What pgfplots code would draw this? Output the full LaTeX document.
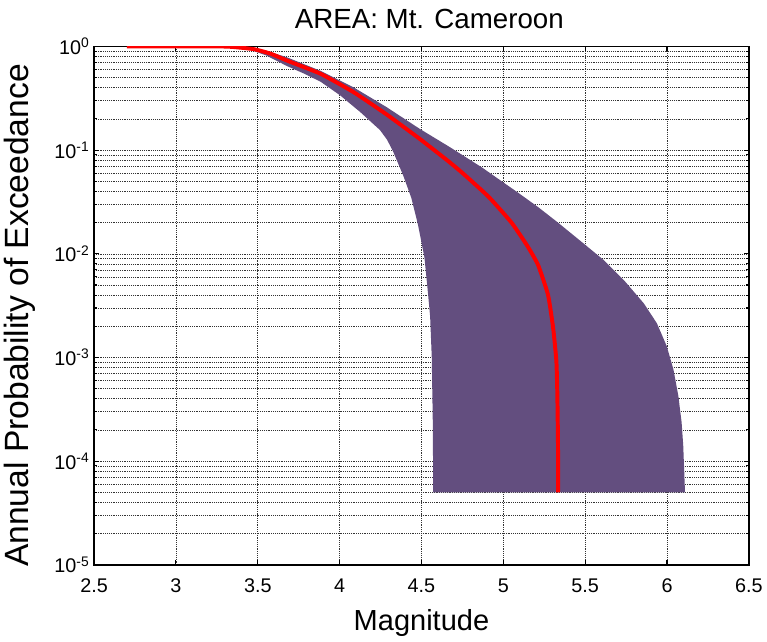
\documentclass[border=0pt]{standalone}
\usepackage{pgfplots}
\pgfplotsset{compat=1.18}
\usepackage{fontspec}
\setmainfont{Liberation Sans}
\definecolor{purp}{RGB}{99,78,127}
\begin{document}
\begin{tikzpicture}
\begin{axis}[
  scale only axis,
  width=496.5pt, height=393pt,
  xmin=2.5, xmax=6.5,
  ymode=log, ymin=1e-5, ymax=1,
  xtick={2.5,3,3.5,4,4.5,5,5.5,6,6.5},
  xticklabels={2.5,3,3.5,4,4.5,5,5.5,6,6.5},
  ytick={1e-5,1e-4,1e-3,1e-2,1e-1,1},
  yticklabels={10\textsuperscript{-5},10\textsuperscript{-4},10\textsuperscript{-3},10\textsuperscript{-2},10\textsuperscript{-1},10\textsuperscript{0}},
  minor ytick={2e-5,3e-5,4e-5,5e-5,6e-5,7e-5,8e-5,9e-5,
               2e-4,3e-4,4e-4,5e-4,6e-4,7e-4,8e-4,9e-4,
               2e-3,3e-3,4e-3,5e-3,6e-3,7e-3,8e-3,9e-3,
               2e-2,3e-2,4e-2,5e-2,6e-2,7e-2,8e-2,9e-2,
               2e-1,3e-1,4e-1,5e-1,6e-1,7e-1,8e-1,9e-1},
  xmajorgrids, ymajorgrids, yminorgrids,
  major grid style={densely dotted, black!80, line width=0.45pt},
  minor grid style={densely dotted, black!80, line width=0.45pt},
  tick align=inside,
  major tick length=3.75pt,
  minor tick length=2.2pt,
  tick style={black, line width=0.8pt},
  axis line style={black, line width=1.2pt},
  tick label style={font=\fontsize{15}{17}\selectfont},
  /pgf/number format/assume math mode=true,
  xticklabel style={yshift=-7pt},
  title={AREA: Mt. Cameroon},
  title style={font=\fontsize{21}{25}\selectfont, at={(axis description cs:0.512,1.038)}, anchor=center},
  xlabel={Magnitude},
  xlabel style={font=\fontsize{22}{26}\selectfont, at={(axis description cs:0.5,-0.113)}, anchor=center},
  ylabel={Annual Probability of Exceedance},
  ylabel style={font=\fontsize{25.5}{30}\selectfont, at={(axis description cs:-0.113,0.481)}, anchor=center, rotate=0},
]
\addplot[fill=purp, draw=none] coordinates {
(3.30,1) (3.45,0.970) (3.55,0.912) (3.68,0.785) (3.884,0.582) (4.085,0.404)
(4.287,0.260) (4.488,0.161) (4.669,0.108) (4.75,0.0897) (4.87,0.068) (4.99,0.0501)
(5.09,0.0389) (5.213,0.0282) (5.334,0.0200) (5.495,0.0124) (5.616,0.00863)
(5.737,0.00556) (5.858,0.00333) (5.938,0.00214) (5.998,0.00129) (6.039,0.000769)
(6.069,0.000429) (6.089,0.000238) (6.099,0.000143) (6.11,5e-5)
(4.572,5e-5) (4.569,0.000251) (4.563,0.001) (4.553,0.00248) (4.538,0.00447)
(4.518,0.00929) (4.478,0.0193) (4.438,0.0347) (4.387,0.0578) (4.327,0.0968)
(4.29,0.126) (4.247,0.156) (4.126,0.233) (4.005,0.336) (3.884,0.457) (3.78,0.55) (3.68,0.646)
(3.55,0.822) (3.45,0.933) (3.35,0.991)
} -- cycle;
\addplot[red, line width=3pt, smooth, tension=0.3] coordinates {
(2.70,1) (3.28,1) (3.38,0.979) (3.48,0.940) (3.58,0.851) (3.68,0.730)
(3.884,0.545) (4.085,0.363) (4.287,0.221) (4.488,0.129) (4.659,0.0794)
(4.75,0.0603) (4.91,0.0355) (5.05,0.0200) (5.15,0.0117) (5.213,0.00776)
(5.273,0.00403) (5.304,0.00195) (5.324,0.000933) (5.33,0.000447)
(5.334,0.000148) (5.335,5e-5)
};
\end{axis}
\path (current axis.south west) ++(-68.25pt,-51pt) coordinate (bbA);
\path (current axis.north east) ++(10.5pt,35.25pt) coordinate (bbB);
\path (bbA) rectangle (bbB);
\end{tikzpicture}
\end{document}
